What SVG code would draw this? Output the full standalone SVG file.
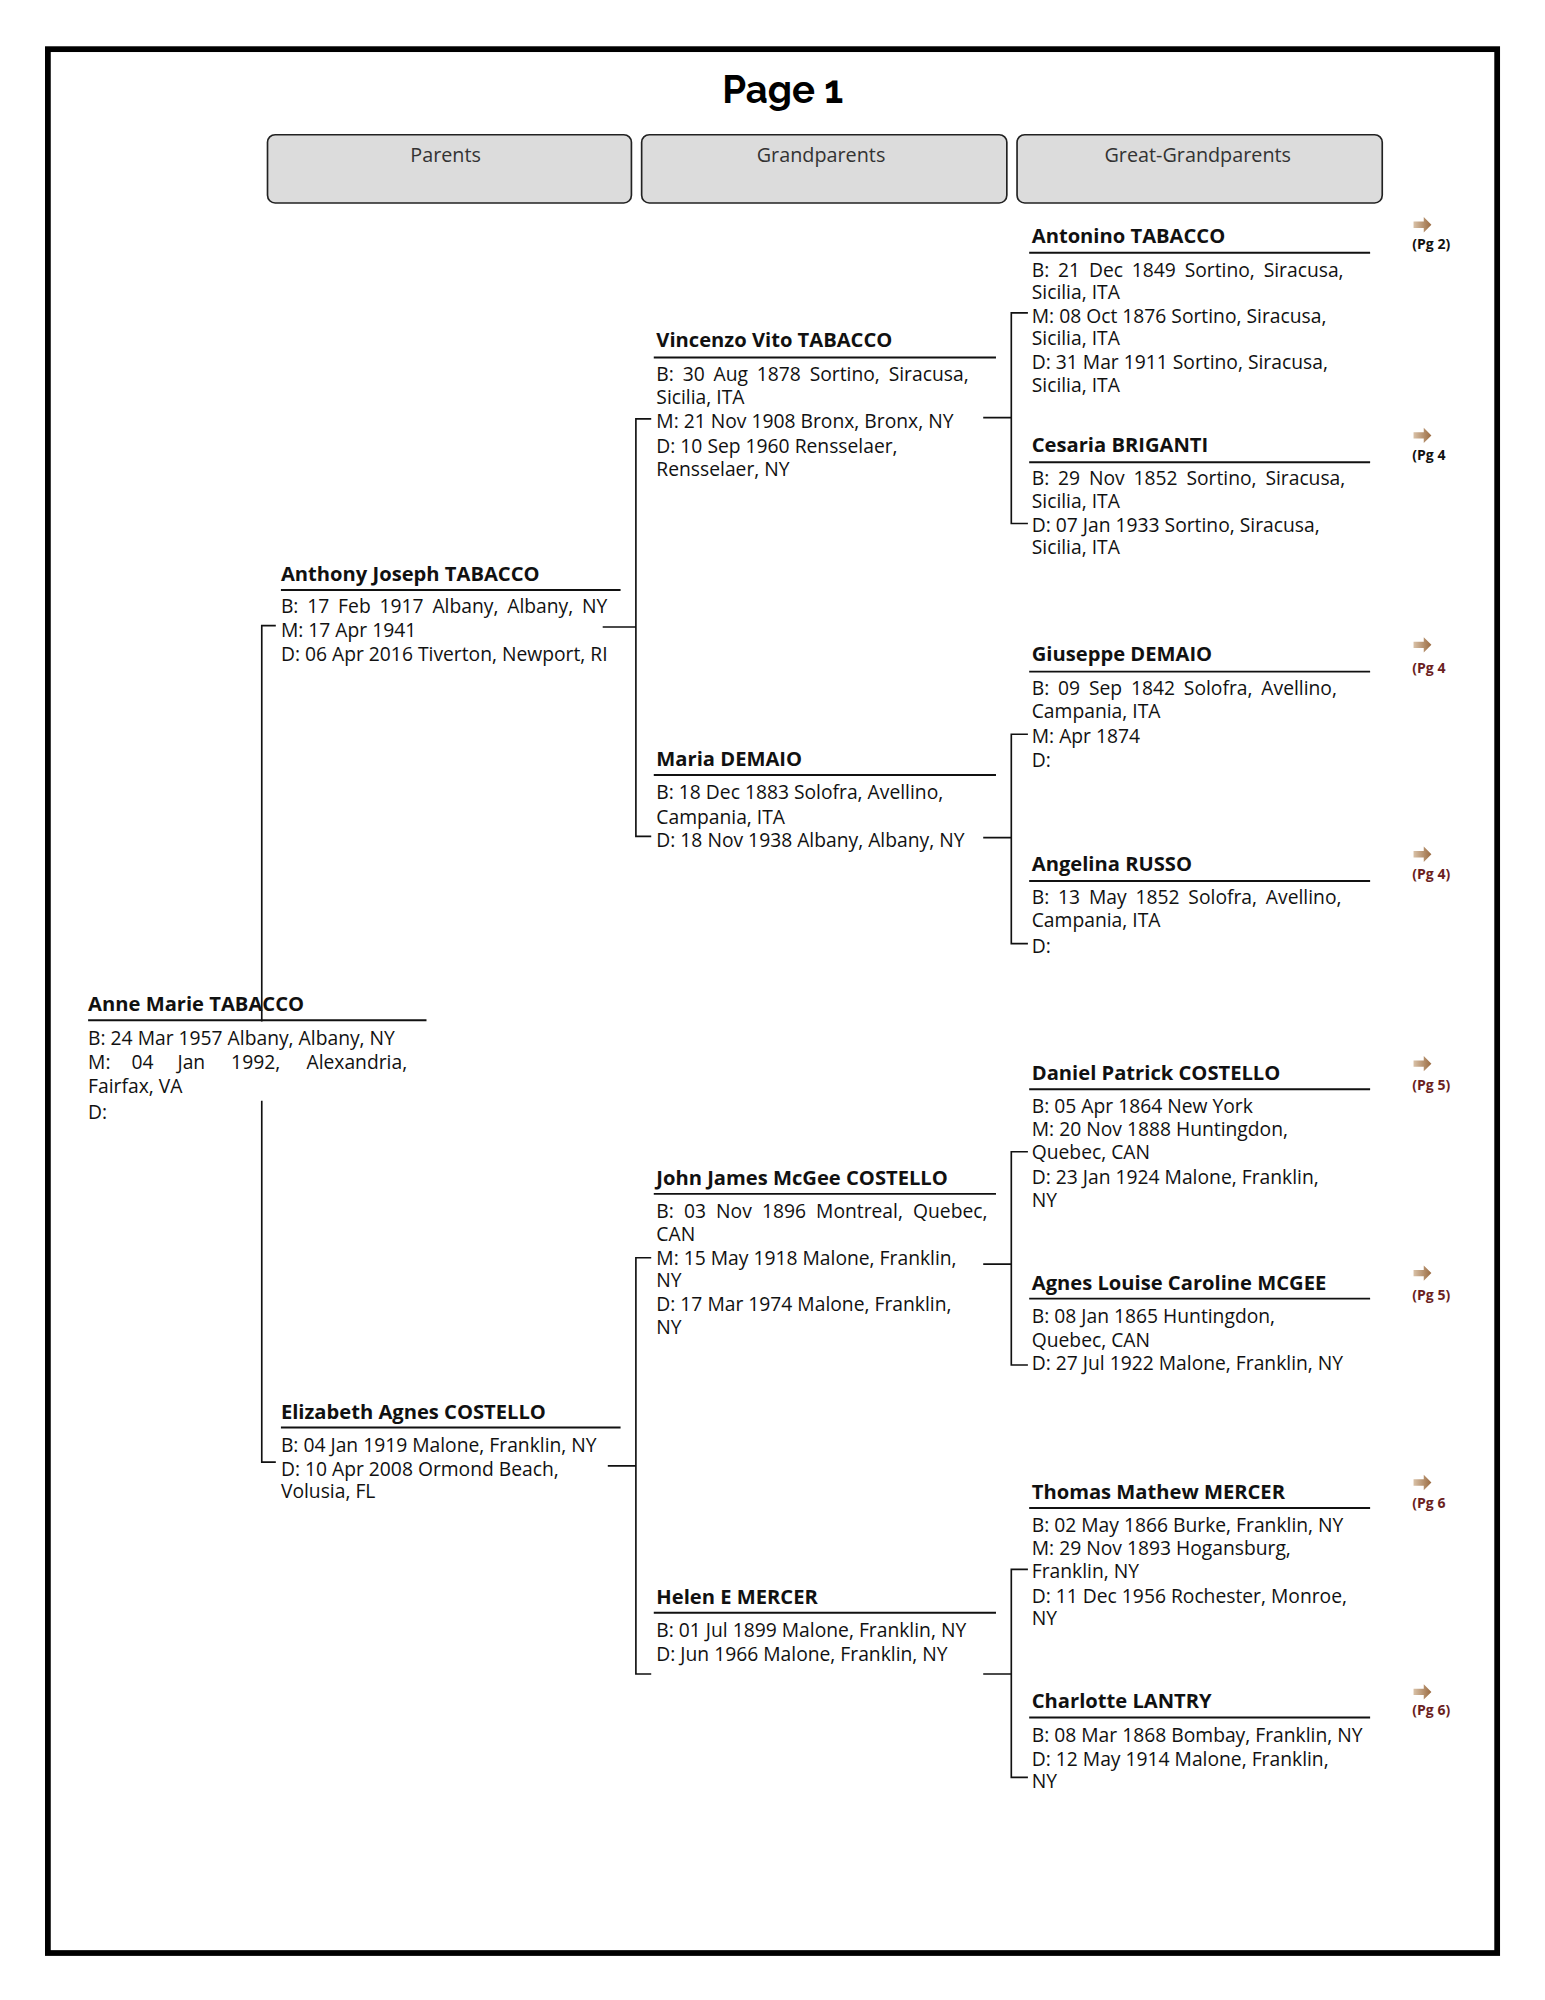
<svg xmlns="http://www.w3.org/2000/svg" width="1545" height="2000" viewBox="0 0 1545 2000">
<style>
.t{font-family:"Open Sans","Liberation Sans",sans-serif;font-size:15.1px;fill:#111}
.w{word-spacing:3px}
.n{font-family:"Open Sans","Liberation Sans",sans-serif;font-size:15.8px;font-weight:bold;fill:#111}
.h{font-family:"Open Sans","Liberation Sans",sans-serif;font-size:15.5px;fill:#333;text-anchor:middle}
.p{font-family:"Open Sans","Liberation Sans",sans-serif;font-size:11px;font-weight:bold}
.ul{stroke:#111;stroke-width:1.5}
.c{fill:none;stroke:#111;stroke-width:1.3}
.box{fill:#dcdcdc;stroke:#222;stroke-width:1.3}
</style>
<defs>
<linearGradient id="ag" x1="0" x2="1"><stop offset="0" stop-color="#d9c2a8"/><stop offset="1" stop-color="#9a6a40"/></linearGradient>
<path id="arr" d="M0,-2.5 H8 V-6 L14,0 L8,6 V2.5 H0 Z" fill="url(#ag)"/>
</defs>
<rect width="1545" height="2000" fill="#fff"/>
<g transform="scale(1.2769)">
<rect x="37.5" y="38.5" width="1135" height="1491" fill="none" stroke="#000" stroke-width="4.5"/>
<text x="613" y="81" text-anchor="middle" font-family="Raleway,Lato,'Liberation Sans',sans-serif" font-size="30" font-weight="bold">Page 1</text>
<g id="headers">
<rect class="box" x="209.5" y="105.5" width="285" height="53.5" rx="6"/>
<rect class="box" x="502.5" y="105.5" width="286" height="53.5" rx="6"/>
<rect class="box" x="796.5" y="105.5" width="286" height="53.5" rx="6"/>
<text class="h" x="349" y="127">Parents</text>
<text class="h" x="643" y="127">Grandparents</text>
<text class="h" x="938" y="127">Great-Grandparents</text>
</g>
<g id="connectors">
<path class="c" d="M216,490 H205 V800 M205,862 V1145 H216"/>
<path class="c" d="M472,491 H498 M510,328 H498 V655 H510"/>
<path class="c" d="M476,1148 H498 M510,985 H498 V1311 H510"/>
<path class="c" d="M770,327 H792 M805,245 H792 V410 H805"/>
<path class="c" d="M770,656 H792 M805,575 H792 V739 H805"/>
<path class="c" d="M770,990 H792 M805,902 H792 V1069 H805"/>
<path class="c" d="M770,1311 H792 M805,1229 H792 V1392 H805"/>
</g>
<g id="anne">
<text class="n" x="69" y="792">Anne Marie TABACCO</text>
<line class="ul" x1="69" y1="799" x2="334" y2="799"/>
<text class="t" x="69" y="818">B: 24 Mar 1957 Albany, Albany, NY</text>
<text class="t" y="837"><tspan x="69">M:</tspan><tspan x="103">04</tspan><tspan x="139">Jan</tspan><tspan x="181">1992,</tspan><tspan x="240">Alexandria,</tspan></text>
<text class="t" x="69" y="856">Fairfax, VA</text>
<text class="t" x="69" y="876">D:</text>
</g>
<g id="anthony">
<text class="n" x="220" y="455">Anthony Joseph TABACCO</text>
<line class="ul" x1="220" y1="462" x2="486" y2="462"/>
<text class="t w" x="220" y="480">B: 17 Feb 1917 Albany, Albany, NY</text>
<text class="t" x="220" y="499">M: 17 Apr 1941</text>
<text class="t" x="220" y="518">D: 06 Apr 2016 Tiverton, Newport, RI</text>
</g>
<g id="elizabeth">
<text class="n" x="220" y="1111">Elizabeth Agnes COSTELLO</text>
<line class="ul" x1="220" y1="1118" x2="486" y2="1118"/>
<text class="t" x="220" y="1137">B: 04 Jan 1919 Malone, Franklin, NY</text>
<text class="t" x="220" y="1156">D: 10 Apr 2008 Ormond Beach,</text>
<text class="t" x="220" y="1173">Volusia, FL</text>
</g>
<g id="vincenzo">
<text class="n" x="514" y="272">Vincenzo Vito TABACCO</text>
<line class="ul" x1="512" y1="280" x2="780" y2="280"/>
<text class="t w" x="514" y="298">B: 30 Aug 1878 Sortino, Siracusa,</text>
<text class="t" x="514" y="316">Sicilia, ITA</text>
<text class="t" x="514" y="335">M: 21 Nov 1908 Bronx, Bronx, NY</text>
<text class="t" x="514" y="355">D: 10 Sep 1960 Rensselaer,</text>
<text class="t" x="514" y="373">Rensselaer, NY</text>
</g>
<g id="maria">
<text class="n" x="514" y="600">Maria DEMAIO</text>
<line class="ul" x1="512" y1="607" x2="780" y2="607"/>
<text class="t" x="514" y="626">B: 18 Dec 1883 Solofra, Avellino,</text>
<text class="t" x="514" y="645">Campania, ITA</text>
<text class="t" x="514" y="663">D: 18 Nov 1938 Albany, Albany, NY</text>
</g>
<g id="john">
<text class="n" x="514" y="928">John James McGee COSTELLO</text>
<line class="ul" x1="512" y1="935" x2="780" y2="935"/>
<text class="t" x="514" y="954" style="word-spacing:4px">B: 03 Nov 1896 Montreal, Quebec,</text>
<text class="t" x="514" y="972">CAN</text>
<text class="t" x="514" y="991">M: 15 May 1918 Malone, Franklin,</text>
<text class="t" x="514" y="1008">NY</text>
<text class="t" x="514" y="1027">D: 17 Mar 1974 Malone, Franklin,</text>
<text class="t" x="514" y="1045">NY</text>
</g>
<g id="helen">
<text class="n" x="514" y="1256">Helen E MERCER</text>
<line class="ul" x1="512" y1="1263" x2="780" y2="1263"/>
<text class="t" x="514" y="1282">B: 01 Jul 1899 Malone, Franklin, NY</text>
<text class="t" x="514" y="1301">D: Jun 1966 Malone, Franklin, NY</text>
</g>
<g id="antonino">
<text class="n" x="808" y="190">Antonino TABACCO</text>
<line class="ul" x1="806" y1="198" x2="1073" y2="198"/>
<text class="t w" x="808" y="217">B: 21 Dec 1849 Sortino, Siracusa,</text>
<text class="t" x="808" y="234">Sicilia, ITA</text>
<text class="t" x="808" y="253">M: 08 Oct 1876 Sortino, Siracusa,</text>
<text class="t" x="808" y="270">Sicilia, ITA</text>
<text class="t" x="808" y="289">D: 31 Mar 1911 Sortino, Siracusa,</text>
<text class="t" x="808" y="307">Sicilia, ITA</text>
<use href="#arr" x="1107" y="176"/><text class="p" x="1106" y="195" fill="#111">(Pg 2)</text>
</g>
<g id="cesaria">
<text class="n" x="808" y="354">Cesaria BRIGANTI</text>
<line class="ul" x1="806" y1="362" x2="1073" y2="362"/>
<text class="t w" x="808" y="380">B: 29 Nov 1852 Sortino, Siracusa,</text>
<text class="t" x="808" y="398">Sicilia, ITA</text>
<text class="t" x="808" y="417">D: 07 Jan 1933 Sortino, Siracusa,</text>
<text class="t" x="808" y="434">Sicilia, ITA</text>
<use href="#arr" x="1107" y="341"/><text class="p" x="1106" y="360" fill="#111">(Pg 4</text>
</g>
<g id="giuseppe">
<text class="n" x="808" y="518">Giuseppe DEMAIO</text>
<line class="ul" x1="806" y1="526" x2="1073" y2="526"/>
<text class="t w" x="808" y="544">B: 09 Sep 1842 Solofra, Avellino,</text>
<text class="t" x="808" y="562">Campania, ITA</text>
<text class="t" x="808" y="582">M: Apr 1874</text>
<text class="t" x="808" y="601">D:</text>
<use href="#arr" x="1107" y="505"/><text class="p" x="1106" y="527" fill="#6b1f1f">(Pg 4</text>
</g>
<g id="angelina">
<text class="n" x="808" y="682">Angelina RUSSO</text>
<line class="ul" x1="806" y1="690" x2="1073" y2="690"/>
<text class="t w" x="808" y="708">B: 13 May 1852 Solofra, Avellino,</text>
<text class="t" x="808" y="726">Campania, ITA</text>
<text class="t" x="808" y="746">D:</text>
<use href="#arr" x="1107" y="669"/><text class="p" x="1106" y="688" fill="#6b1f1f">(Pg 4)</text>
</g>
<g id="daniel">
<text class="n" x="808" y="846">Daniel Patrick COSTELLO</text>
<line class="ul" x1="806" y1="853" x2="1073" y2="853"/>
<text class="t" x="808" y="872">B: 05 Apr 1864 New York</text>
<text class="t" x="808" y="890">M: 20 Nov 1888 Huntingdon,</text>
<text class="t" x="808" y="908">Quebec, CAN</text>
<text class="t" x="808" y="927">D: 23 Jan 1924 Malone, Franklin,</text>
<text class="t" x="808" y="945">NY</text>
<use href="#arr" x="1107" y="833"/><text class="p" x="1106" y="854" fill="#6b1f1f">(Pg 5)</text>
</g>
<g id="agnes">
<text class="n" x="808" y="1010">Agnes Louise Caroline MCGEE</text>
<line class="ul" x1="806" y1="1017" x2="1073" y2="1017"/>
<text class="t" x="808" y="1036">B: 08 Jan 1865 Huntingdon,</text>
<text class="t" x="808" y="1055">Quebec, CAN</text>
<text class="t" x="808" y="1073">D: 27 Jul 1922 Malone, Franklin, NY</text>
<use href="#arr" x="1107" y="997"/><text class="p" x="1106" y="1018" fill="#6b1f1f">(Pg 5)</text>
</g>
<g id="thomas">
<text class="n" x="808" y="1174">Thomas Mathew MERCER</text>
<line class="ul" x1="806" y1="1181" x2="1073" y2="1181"/>
<text class="t" x="808" y="1200">B: 02 May 1866 Burke, Franklin, NY</text>
<text class="t" x="808" y="1218">M: 29 Nov 1893 Hogansburg,</text>
<text class="t" x="808" y="1236">Franklin, NY</text>
<text class="t" x="808" y="1255">D: 11 Dec 1956 Rochester, Monroe,</text>
<text class="t" x="808" y="1273">NY</text>
<use href="#arr" x="1107" y="1161"/><text class="p" x="1106" y="1181" fill="#6b1f1f">(Pg 6</text>
</g>
<g id="charlotte">
<text class="n" x="808" y="1338">Charlotte LANTRY</text>
<line class="ul" x1="806" y1="1345" x2="1073" y2="1345"/>
<text class="t" x="808" y="1364">B: 08 Mar 1868 Bombay, Franklin, NY</text>
<text class="t" x="808" y="1383">D: 12 May 1914 Malone, Franklin,</text>
<text class="t" x="808" y="1400">NY</text>
<use href="#arr" x="1107" y="1325"/><text class="p" x="1106" y="1343" fill="#6b1f1f">(Pg 6)</text>
</g>
</g>
</svg>
